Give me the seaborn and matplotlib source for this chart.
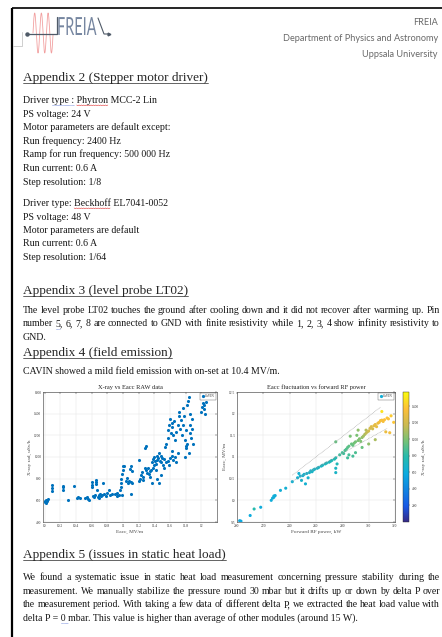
import numpy as np
import matplotlib
matplotlib.use("Agg")
import matplotlib.pyplot as plt
import seaborn as sns
import pandas as pd
from matplotlib.colors import LinearSegmentedColormap, Normalize
from matplotlib.cm import ScalarMappable
from matplotlib.lines import Line2D
from matplotlib.textpath import TextPath
from matplotlib.patches import PathPatch
from matplotlib.font_manager import FontProperties
from matplotlib.transforms import Affine2D

W, H, DPI = 442, 637, 100

# ---------------- data: X-ray dose vs accelerating field (raw) ----------------
eacc_raw = [10.00, 10.01, 10.02, 10.03, 10.04, 10.02,
            10.09, 10.09, 10.10, 10.23, 10.24, 10.24, 10.30, 10.37,
            10.41, 10.43, 10.45, 10.52, 10.54, 10.56, 10.57,
            10.60, 10.60, 10.61, 10.62, 10.63, 10.64, 10.65, 10.66, 10.66, 10.67,
            10.68, 10.69, 10.70, 10.71, 10.72, 10.73, 10.75,
            10.76, 10.78, 10.80, 10.82, 10.84, 10.86,
            10.90, 10.92, 10.93, 10.95, 10.96,
            10.97, 10.98, 10.98, 10.99, 11.00, 11.00, 11.01, 10.99,
            11.04, 11.05, 11.07, 11.08, 11.10, 11.12, 11.10, 11.09, 11.10, 11.11,
            11.20, 11.21, 11.22, 11.23, 11.24, 11.25, 11.26, 11.28, 11.29, 11.28,
            11.30, 11.31, 11.32, 11.33, 11.34, 11.35, 11.36, 11.37,
            11.37, 11.38, 11.39, 11.40, 11.41, 11.42, 11.43, 11.44, 11.45, 11.46,
            11.47, 11.48, 11.49, 11.50, 11.51, 11.52,
            11.44, 11.46, 11.48, 11.38, 11.42,
            11.54, 11.55, 11.53, 11.55,
            11.57, 11.58, 11.59, 11.60, 11.61, 11.62, 11.63, 11.64, 11.65, 11.66,
            11.58, 11.60, 11.62, 11.64, 11.66, 11.68, 11.70, 11.59, 11.63,
            11.68, 11.70, 11.71, 11.72, 11.73, 11.74,
            11.75, 11.76, 11.77, 11.78, 11.79, 11.80, 11.81, 11.82, 11.83, 11.84,
            11.85, 11.86, 11.87, 11.88,
            11.80, 11.82, 11.84, 11.86, 11.88, 11.89, 11.79,
            12.00, 12.01, 12.02, 12.03, 12.04, 12.05, 12.06]
xray_raw = [585, 590, 600, 595, 610, 580,
            690, 710, 745, 700, 720, 735, 605, 728,
            625, 628, 622, 625, 635, 612, 602,
            720, 745, 765, 640, 628, 650, 770, 785, 750, 700,
            630, 645, 625, 660, 640, 650, 760,
            655, 640, 665, 700, 650, 660,
            655, 640, 665, 650, 700,
            720, 760, 800, 840, 880, 915, 920, 650,
            780, 810, 760, 780, 770, 760, 660, 890, 920, 870,
            780, 970, 800, 830, 860, 790, 820, 1080, 1100, 900,
            880, 850, 900, 840, 870, 820, 880, 760,
            950, 980, 930, 1000, 960, 940, 1010, 970, 990, 1040,
            960, 1010, 950, 990, 930, 980,
            800, 760, 830, 900, 880,
            1090, 1120, 900, 950,
            1180, 1250, 1300, 1350, 1220, 1280, 1310, 1200, 1330, 1160,
            960, 990, 1010, 970, 1000, 950, 1040, 930, 1060,
            1230, 1300, 1380, 1420, 1260, 1340,
            1200, 1450, 1300, 1380, 1160, 1100, 1250, 1480, 1520, 1550,
            1400, 1300, 1180, 1350,
            1080, 1120, 1040, 1220, 1260, 1120, 1000,
            1420, 1460, 1500, 1440, 1480, 1400, 1510]

# ---------------- data: accelerating field vs forward RF power ----------------
power_kw = [202, 203, 210, 213, 218, 226, 227, 228, 229, 228, 233, 237, 242,
            246, 247, 248, 249, 250, 251, 252, 253, 254, 255, 256, 257, 258, 259,
            261, 262, 264, 265, 267, 268, 270, 271, 272, 274, 275, 276, 275, 275,
            275, 278, 280, 281, 282, 283, 284, 285, 285, 286, 287, 288, 289, 290,
            290, 291, 292, 292, 293, 294, 295, 295, 296, 297, 298, 298, 299, 300,
            300, 301, 302, 303, 304, 305, 305, 306, 307, 308, 309, 310, 310, 311,
            312, 313, 314, 315, 316, 317, 319, 284, 288]
eacc_rf = [9.53, 9.52, 9.65, 9.80, 9.84, 10.00, 10.05, 10.10, 10.11, 10.07, 10.23, 10.28, 10.43,
           10.52, 10.62, 10.56, 10.46, 10.57, 10.60, 10.38, 10.62, 10.52, 10.64, 10.68, 10.66, 10.70, 10.72,
           10.74, 10.76, 10.79, 10.81, 10.84, 10.86, 10.88, 10.90, 10.92, 10.95, 10.98, 10.84, 10.74, 10.64,
           11.35, 11.05, 11.10, 11.08, 11.15, 11.18, 11.22, 11.05, 11.25, 11.48, 11.30, 11.27, 11.32, 11.35,
           11.10, 11.50, 11.62, 11.38, 11.42, 11.36, 11.45, 11.22, 11.48, 11.52, 11.55, 11.62, 11.58, 11.60,
           11.30, 11.66, 11.70, 11.65, 11.72, 11.75, 11.40, 11.70, 11.78, 11.80, 11.84, 11.85, 12.05, 11.82,
           11.86, 11.58, 11.90, 11.88, 11.56, 11.95, 11.80, 10.98, 11.02]
xray_rf = [560, 570, 590, 780, 600, 610, 615, 620, 610, 615, 630, 640, 650,
           650, 640, 660, 670, 650, 665, 650, 670, 660, 680, 670, 690, 685, 695,
           700, 695, 710, 715, 725, 730, 740, 735, 750, 760, 770, 750, 710, 690,
           940, 840, 860, 850, 880, 890, 910, 860, 920, 990, 950, 940, 970, 980,
           880, 990, 1040, 990, 1010, 1000, 1040, 950, 1080, 1100, 1150, 1120, 1150, 1200,
           1040, 1220, 1240, 1200, 1260, 1280, 1100, 1270, 1300, 1320, 1340, 1350, 1480, 1340,
           1360, 1300, 1380, 1370, 1320, 1400, 1380, 850, 860]

# dotted envelope lines
env_upper_kw = [242, 309]
env_upper_mv = [10.58, 12.15]
env_lower_kw = [242, 314]
env_lower_mv = [10.44, 11.66]

raw_xticks = [10, 10.2, 10.4, 10.6, 10.8, 11, 11.2, 11.4, 11.6, 11.8, 12]
raw_yticks = [400, 600, 800, 1000, 1200, 1400, 1600]
rf_xticks = [200, 220, 240, 260, 280, 300, 320]
rf_yticks = [9.5, 10, 10.5, 11, 11.5, 12, 12.5]
cbar_ticks = [200, 400, 600, 800, 1000, 1200, 1400]

# ---------------- page text ----------------
header_lines = ["FREIA", "Department of Physics and Astronomy", "Uppsala University"]
app2_title = "Appendix 2 (Stepper motor driver)"
app2_block1 = ["Driver type : Phytron MCC-2 Lin", "PS voltage: 24 V",
               "Motor parameters are default except:", "Run frequency: 2400 Hz",
               "Ramp for run frequency: 500 000 Hz", "Run current: 0.6 A",
               "Step resolution: 1/8"]
app2_block2 = ["Driver type: Beckhoff EL7041-0052", "PS voltage: 48 V",
               "Motor parameters are default", "Run current: 0.6 A",
               "Step resolution: 1/64"]
app3_title = "Appendix 3 (level probe LT02)"
app3_lines = ["The level probe LT02 touches the ground after cooling down and it did not recover after warming up. Pin",
              "number 5, 6, 7, 8 are connected to GND with finite resistivity while 1, 2, 3, 4 show infinity resistivity to",
              "GND."]
app4_title = "Appendix 4 (field emission)"
app4_line = "CAVIN showed a mild field emission with on-set at 10.4 MV/m."
app5_title = "Appendix 5 (issues in static heat load)"
app5_lines = ["We found a systematic issue in static heat load measurement concerning pressure stability during the",
              "measurement. We manually stabilize the pressure round 30 mbar but it drifts up or down by delta P over",
              "the measurement period. With taking a few data of different delta P, we extracted the heat load value with",
              "delta P = 0 mbar. This value is higher than average of other modules (around 15 W)."]

SERIF = "Liberation Serif"
INK = "#161616"
BODY_PT = 7.15
HEAD_PT = 9.5
X0, X1 = 23, 440

sns.set_theme(style="white")
plt.rcParams["font.family"] = ["Liberation Serif", "DejaVu Sans"]

fig = plt.figure(figsize=(W / DPI, H / DPI), dpi=DPI)
fig.patch.set_facecolor("white")
page = fig.add_axes([0, 0, 1, 1])
page.set_xlim(0, W)
page.set_ylim(H, 0)
page.axis("off")
renderer = fig.canvas.get_renderer()

# page frame
page.plot([11.5, 11.5], [7.5, H], color="black", lw=1.6, solid_capstyle="butt")
page.plot([11.5, W], [7.5, 7.5], color="black", lw=1.2, solid_capstyle="butt")

# header logo
page.plot([22, 22, 13], [32, 46, 46], color="#c8c8c8", lw=0.6)
wx = np.linspace(33, 53, 300)
page.plot(wx, 33 - 20 * np.sin(2 * np.pi * (wx - 33) / 6.7), color="#f2a0a0", lw=0.6)
page.plot([27, 57, 57], [34, 34, 17], color="#4f5a68", lw=0.9)
page.plot(27, 34, "o", color="#4f5a68", ms=2.2)
logo_path = TextPath((0, 0), "FREIA", size=1,
                     prop=FontProperties(family="Lato", weight="normal"))
logo_tf = Affine2D().scale(14.5, -25).translate(57, 35)
page.add_patch(PathPatch(logo_tf.transform_path(logo_path), fc="#7686a0", lw=0))
page.plot([98, 104, 108], [18, 34, 34], color="#4f5a68", lw=0.8)
page.plot(108.5, 34, marker=">", color="#4f5a68", ms=2)

for txt, yb in zip(header_lines, [25, 41, 57]):
    page.text(438, yb, txt, fontsize=6.6, family="Lato", color="#686868",
              ha="right", va="baseline")


def text_width(s, size):
    t = page.text(0, 0, s, fontsize=size, family=SERIF)
    w = t.get_window_extent(renderer).width
    t.remove()
    return w


def underline_mark(x, w, yb, color):
    if color == "red":
        zx = np.arange(x, x + w + 0.1, 1.2)
        zy = yb + 2 + 0.6 * (np.arange(len(zx)) % 2)
        page.plot(zx, zy, color="#e03030", lw=0.4)
    else:
        page.plot([x, x + w], [yb + 2, yb + 2], color="#4060d0", lw=0.4,
                  ls=(0, (1, 0.6)))


def body_line(line, yb, justify=False, size=BODY_PT, marks=None):
    marks = marks or {}
    if not justify:
        page.text(X0, yb, line, fontsize=size, family=SERIF, color=INK,
                  ha="left", va="baseline")
        for word, (color, frac) in marks.items():
            end = line.index(word) + len(word)
            ww = text_width(word, size)
            x = X0 + text_width(line[:end], size) - ww
            underline_mark(x, ww * (frac or 1), yb, color)
        return
    words = line.split(" ")
    widths = [text_width(w, size) for w in words]
    gap = (X1 - X0 - sum(widths)) / (len(words) - 1)
    x = X0
    for w, word in zip(widths, words):
        page.text(x, yb, word, fontsize=size, family=SERIF, color=INK,
                  ha="left", va="baseline")
        if word in marks:
            color, frac = marks[word]
            underline_mark(x, w * (frac or 1), yb, color)
        x += w + gap


def heading(txt, yb):
    page.text(X0, yb, txt, fontsize=HEAD_PT, family=SERIF, color="#262626",
              ha="left", va="baseline")
    w = text_width(txt, HEAD_PT)
    page.plot([X0, X0 + w], [yb + 2, yb + 2], color="#262626", lw=0.5)


heading(app2_title, 81)
for i, line in enumerate(app2_block1):
    marks = {"type :": ("blue", None), "Phytron": ("red", None)} if i == 0 else None
    body_line(line, 103 + i * 13.6, marks=marks)
for i, line in enumerate(app2_block2):
    marks = {"Beckhoff": ("red", None)} if i == 0 else None
    body_line(line, 206 + i * 13.5, marks=marks)

heading(app3_title, 294)
for i, line in enumerate(app3_lines):
    marks = {"5,": ("blue", 0.5)} if i == 1 else None
    body_line(line, 313 + i * 13.5, justify=(i < 2), marks=marks)

heading(app4_title, 356)
body_line(app4_line, 374)

heading(app5_title, 558)
for i, line in enumerate(app5_lines):
    marks = {"0 ": ("blue", None)} if i == 3 else None
    body_line(line, 580 + i * 13.5, justify=(i < 3), marks=marks)


# ---------------- charts ----------------
def px_axes(x0, y0, x1, y1):
    return fig.add_axes([x0 / W, 1 - y1 / H, (x1 - x0) / W, (y1 - y0) / H])


def style_chart(ax, title, xlabel, ylabel):
    ax.set_facecolor("white")
    ax.grid(True, color="#e4e4e4", lw=0.35)
    for s in ax.spines.values():
        s.set_visible(True)
        s.set_color("#333333")
        s.set_linewidth(0.4)
    ax.tick_params(labelsize=2.6, colors="#333333", length=1.2, width=0.3,
                   direction="in", pad=1.2, top=True, right=True,
                   labeltop=False, labelright=False)
    ax.set_title(title, fontsize=4.6, family=SERIF, color="#222222", pad=2.5)
    ax.set_xlabel(xlabel, fontsize=3.8, family=SERIF, color="#444444", labelpad=1.5)
    ax.set_ylabel(ylabel, fontsize=3.8, family=SERIF, color="#444444", labelpad=1.5)


def small_legend(ax, color):
    h = Line2D([], [], marker="o", ls="", color=color, ms=1.3)
    leg = ax.legend([h], ["CaVIN"], loc="upper right", fontsize=2.4, frameon=True,
                    edgecolor="#333333", fancybox=False, borderpad=0.4,
                    handletextpad=0.2, borderaxespad=0.3, handlelength=1.0)
    leg.get_frame().set_linewidth(0.3)


MATLAB_BLUE = "#0072BD"
ax1 = px_axes(43, 392, 217, 522)
raw_df = pd.DataFrame({"Eacc": eacc_raw, "Xray": xray_raw})
sns.scatterplot(data=raw_df, x="Eacc", y="Xray", ax=ax1, s=5, color=MATLAB_BLUE,
                linewidth=0, legend=False)
ax1.set_xlim(9.98, 12.2)
ax1.set_ylim(400, 1600)
ax1.set_xticks(raw_xticks)
ax1.set_xticklabels([f"{v:g}" for v in raw_xticks])
ax1.set_yticks(raw_yticks)
style_chart(ax1, "X-ray vs Eacc RAW data", "Eacc, MV/m", "X-ray rad, uSv/h")
small_legend(ax1, MATLAB_BLUE)

# parula-like colour map
parula = LinearSegmentedColormap.from_list("parula_like", [
    (0.00, (0.21, 0.17, 0.53)),
    (0.12, (0.10, 0.35, 0.90)),
    (0.25, (0.07, 0.52, 0.88)),
    (0.37, (0.05, 0.67, 0.88)),
    (0.50, (0.15, 0.73, 0.68)),
    (0.62, (0.45, 0.76, 0.47)),
    (0.75, (0.80, 0.73, 0.32)),
    (0.87, (0.99, 0.75, 0.22)),
    (1.00, (0.98, 0.98, 0.06))])
norm = Normalize(0, 1570)

ax2 = px_axes(237, 392, 395, 522)
rf_df = pd.DataFrame({"P": power_kw, "Eacc": eacc_rf, "Xray": xray_rf})
ax2.plot(env_upper_kw, env_upper_mv, color="#9a9a9a", lw=0.4, ls=(0, (1.5, 1.2)))
ax2.plot(env_lower_kw, env_lower_mv, color="#9a9a9a", lw=0.4, ls=(0, (1.5, 1.2)))
sns.scatterplot(data=rf_df, x="P", y="Eacc", hue="Xray", palette=parula, hue_norm=norm,
                ax=ax2, s=5, linewidth=0, legend=False)
ax2.set_xlim(200, 320)
ax2.set_ylim(9.5, 12.5)
ax2.set_xticks(rf_xticks)
ax2.set_yticks(rf_yticks)
ax2.set_yticklabels([f"{v:g}" for v in rf_yticks])
style_chart(ax2, "Eacc fluctuation vs forward RF power", "Forward RF power, kW", "Eacc, MV/m")
small_legend(ax2, parula(norm(620)))

cax = px_axes(403, 392, 409, 522)
cb = fig.colorbar(ScalarMappable(norm=norm, cmap=parula), cax=cax)
cb.set_ticks(cbar_ticks)
cb.outline.set_linewidth(0.3)
cax.tick_params(labelsize=2.6, length=1.0, width=0.3, colors="#333333", pad=1.2)
cb.set_label("X-ray rad, uSv/h", fontsize=3.8, family=SERIF, color="#444444", labelpad=2)

fig.savefig("out.png", dpi=DPI, facecolor="white")
